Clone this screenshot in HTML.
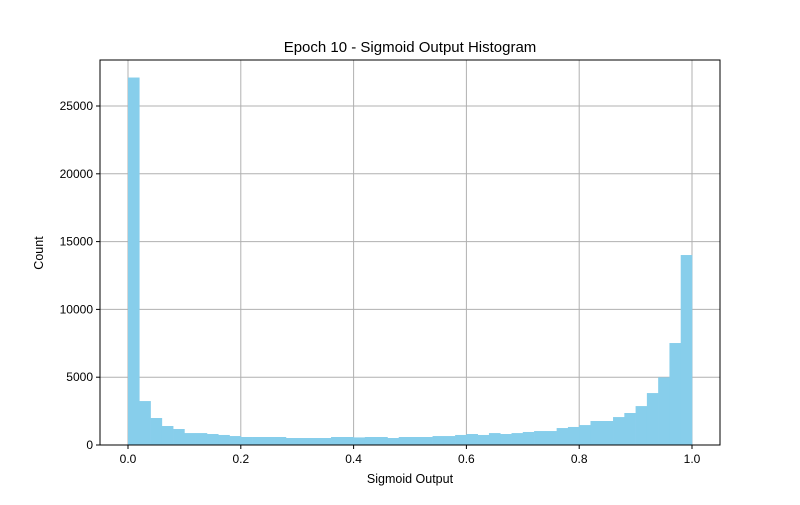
<!DOCTYPE html>
<html><head><meta charset="utf-8"><style>
body{margin:0;background:#fff;font-family:"Liberation Sans","Noto Sans CJK KR",sans-serif;}
svg text{font-family:"Liberation Sans","Noto Sans CJK KR",sans-serif;fill:#000;}
</style></head><body>
<svg id="chart" width="800" height="500"></svg>
<script>
const binCounts=[27100,3240,1990,1400,1180,880,880,810,740,660,590,590,590,590,515,515,515,515,590,590,560,590,590,515,590,590,590,660,660,740,810,740,880,810,880,960,1030,1030,1250,1330,1470,1770,1770,2060,2360,2870,3830,4990,7520,14010];
const xTicks=[0.0,0.2,0.4,0.6,0.8,1.0];
const yTicks=[0,5000,10000,15000,20000,25000];
const L=100,R=720,T=60,B=445;
const xs=v=>128+v*564;
const ys=v=>B-v*0.01356;
const NS="http://www.w3.org/2000/svg";
const svg=document.getElementById('chart');
function mk(t,a,p){const e=document.createElementNS(NS,t);for(const k in a)e.setAttribute(k,a[k]);(p||svg).appendChild(e);return e;}
const grid=mk('g',{});


xTicks.forEach(v=>{const l=mk('line',{x1:xs(v),x2:xs(v),y1:T,y2:B,stroke:'#b0b0b0','stroke-width':1},grid);

});
yTicks.forEach(v=>{const l=mk('line',{x1:L,x2:R,y1:ys(v),y2:ys(v),stroke:'#b0b0b0','stroke-width':1},grid);

});
const bars=mk('g',{});


const n=binCounts.length,w=1/n;
binCounts.forEach((c,i)=>{const x0=xs(i*w),x1=xs((i+1)*w);
const r=mk('rect',{x:x0,y:ys(c),width:x1-x0+0.3,height:B-ys(c),fill:'#87ceeb'},bars);

});
const frame=mk('rect',{x:L,y:T,width:R-L,height:B-T,fill:'none',stroke:'#000','stroke-width':1});


xTicks.forEach(v=>{mk('line',{x1:xs(v),x2:xs(v),y1:B,y2:B+4,stroke:'#000'});
const t=mk('text',{x:xs(v),y:B+18,'text-anchor':'middle','font-size':12});t.textContent=v.toFixed(1);

});
yTicks.forEach(v=>{mk('line',{x1:L-4,x2:L,y1:ys(v),y2:ys(v),stroke:'#000'});
const t=mk('text',{x:L-7,y:ys(v)+4,'text-anchor':'end','font-size':12});t.textContent=v;

});
const tt=mk('text',{x:410,y:52,'text-anchor':'middle','font-size':15});tt.textContent='Epoch 10 - Sigmoid Output Histogram';


const xl=mk('text',{x:410,y:483,'text-anchor':'middle','font-size':12.5});xl.textContent='Sigmoid Output';


const yl=mk('text',{x:43,y:253,'text-anchor':'middle','font-size':12.5,transform:'rotate(-90 43 253)'});yl.textContent='Count';


</script>
</body></html>
